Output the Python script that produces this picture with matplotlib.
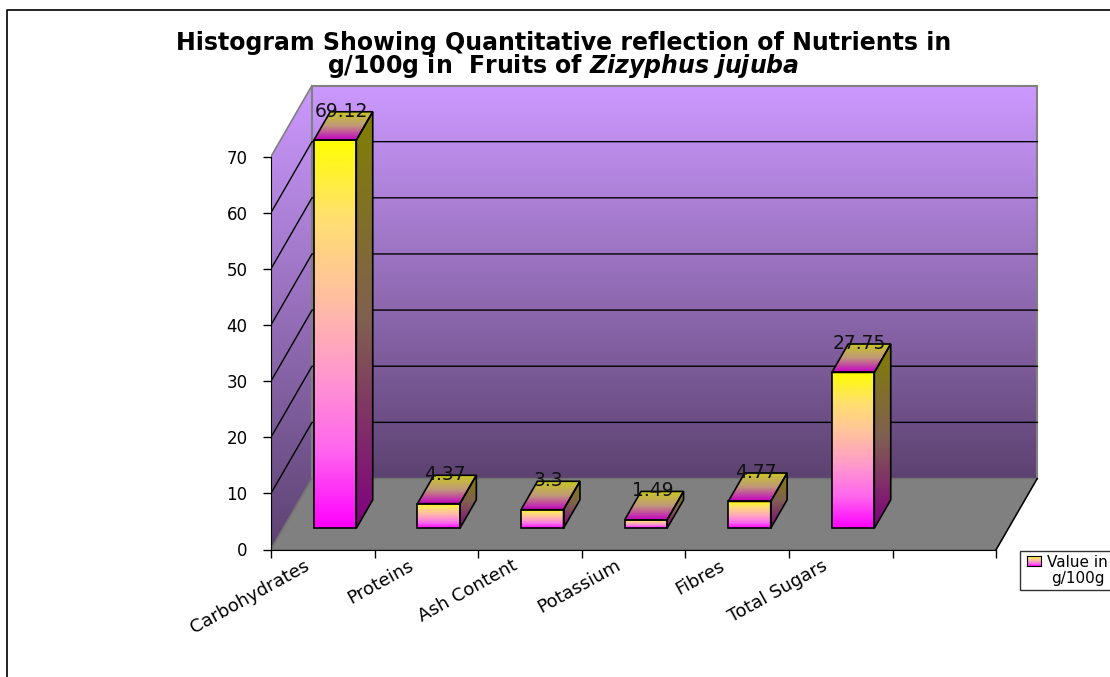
import numpy as np
import matplotlib
matplotlib.use("Agg")
import matplotlib.pyplot as plt
from matplotlib.colors import LinearSegmentedColormap
from matplotlib.patches import Polygon, Rectangle
from matplotlib.lines import Line2D

# ── Data ──────────────────────────────────────────────────────────────────────
categories = ["Carbohydrates", "Proteins", "Ash Content", "Potassium",
              "Fibres", "Total Sugars", ""]
values = [69.12, 4.37, 3.3, 1.49, 4.77, 27.75]
value_labels = ["69.12", "4.37", "3.3", "1.49", "4.77", "27.75"]
y_ticks = [0, 10, 20, 30, 40, 50, 60, 70]
legend_label = "Value in\ng/100g"

# ── Layout (pixels of the 1110x677 picture) ───────────────────────────────────
W, H = 1110, 677
X0, Y0 = 271, 549.5          # front corner of the plot
PX_CAT = 103.6               # pixels per category
PX_VAL = 5.614               # pixels per unit of value
AX_RIGHT, AX_TOP = 1042, 80

# depth of the fake 3D box, in data units
DX = 41 / PX_CAT
DY = 71 / PX_VAL
BAR_W = 0.41
D_FRONT, D_BACK = 0.30, 0.70

# the source text is Arial stretched sideways; DejaVu has about the same widths
plt.rcParams["font.family"] = ["DejaVu Sans"]
plt.rcParams["mathtext.fontset"] = "custom"
plt.rcParams["mathtext.bfit"] = "DejaVu Sans:italic:bold"

wall_cmap = LinearSegmentedColormap.from_list("wall", ["#CC99FF", "#5C4270"])
front_cmap = LinearSegmentedColormap.from_list(
    "front", ["#FFFF00", "#FFE070", "#FFC0A0", "#FF99CC", "#FF66EE", "#FF00FF"])
top_cmap = LinearSegmentedColormap.from_list(
    "top", ["#C8C81E", "#C09A78", "#C400C4"])
side_cmap = LinearSegmentedColormap.from_list(
    "side", ["#808000", "#806050", "#800080"])

fig = plt.figure(figsize=(W / 100, H / 100), dpi=100, facecolor="white")
ax = fig.add_axes([X0 / W, 1 - Y0 / H, (AX_RIGHT - X0) / W, (Y0 - AX_TOP) / H])
ax.patch.set_visible(False)

ramp = np.linspace(0, 1, 256).reshape(-1, 1)


def gradient_poly(xs, ys, cmap, z, edge="black", lw=1.2):
    im = ax.imshow(ramp, extent=(min(xs), max(xs), min(ys), max(ys)),
                   origin="upper", aspect="auto", cmap=cmap, vmin=0, vmax=1,
                   interpolation="bilinear", zorder=z)
    poly = Polygon(np.column_stack([xs, ys]), closed=True, fc="none",
                   ec=edge, lw=lw, zorder=z + 0.1)
    ax.add_patch(poly)
    im.set_clip_path(poly)


n_cat = len(categories)
top_val = y_ticks[-1]

# ── Walls and floor ───────────────────────────────────────────────────────────
gradient_poly([DX, n_cat + DX, n_cat + DX, DX],
              [DY, DY, top_val + DY, top_val + DY], wall_cmap, 1,
              edge="#808080", lw=1.5)
gradient_poly([0, DX, DX, 0],
              [0, DY, top_val + DY, top_val], wall_cmap, 1,
              edge="#808080", lw=1.2)
ax.add_patch(Polygon([(0, 0), (n_cat, 0), (n_cat + DX, DY), (DX, DY)],
                     closed=True, fc="#808080", ec="#707070", lw=1, zorder=1.5))
ax.plot([n_cat, n_cat + DX], [0, DY], color="black", lw=1.1, zorder=1.6)

# ── Gridlines on both walls ───────────────────────────────────────────────────
for t in y_ticks[1:-1]:
    ax.plot([0, DX, n_cat + DX], [t, t + DY, t + DY],
            color="black", lw=1.0, zorder=2)

# ── Bars ──────────────────────────────────────────────────────────────────────
for i, (v, txt) in enumerate(zip(values, value_labels)):
    xl = i + 0.5 - BAR_W / 2 + D_FRONT * DX
    xr = xl + BAR_W
    ddx = (D_BACK - D_FRONT) * DX
    ddy = (D_BACK - D_FRONT) * DY
    yb = D_FRONT * DY
    yt = yb + v
    gradient_poly([xl, xr, xr, xl], [yb, yb, yt, yt], front_cmap, 3)
    gradient_poly([xr, xr + ddx, xr + ddx, xr],
                  [yb, yb + ddy, yt + ddy, yt], side_cmap, 3)
    gradient_poly([xl, xr, xr + ddx, xl + ddx],
                  [yt, yt, yt + ddy, yt + ddy], top_cmap, 3)
    ax.text((xl + xr) / 2 + ddx * 0.4, yt + ddy + 0.1, txt, fontsize=13.5,
            ha="center", va="center", color="#111111", zorder=5)

# ── Axes ──────────────────────────────────────────────────────────────────────
ax.set_xlim(0, (AX_RIGHT - X0) / PX_CAT)
ax.set_ylim(0, (Y0 - AX_TOP) / PX_VAL)
for side in ["top", "right"]:
    ax.spines[side].set_visible(False)
ax.spines["left"].set_bounds(0, top_val)
ax.spines["bottom"].set_bounds(0, n_cat)
ax.spines["left"].set_zorder(6)
ax.spines["bottom"].set_zorder(6)

ax.set_yticks(y_ticks)
ax.tick_params(axis="y", length=6, width=1, labelsize=12, pad=11)
ax.set_xticks(range(n_cat + 1))
ax.set_xticklabels([])
ax.tick_params(axis="x", which="major", length=5.5, width=1)
ax.set_xticks(np.arange(n_cat) + 0.32, labels=categories, minor=True)
ax.tick_params(axis="x", which="minor", length=0, pad=5, labelsize=13)
for lbl in ax.get_xticklabels(minor=True):
    lbl.set_rotation(29)
    lbl.set_ha("right")
    lbl.set_rotation_mode("anchor")

# ── Title ─────────────────────────────────────────────────────────────────────
fig.text(563.5 / W, 1 - 50 / H,
         "Histogram Showing Quantitative reflection of Nutrients in",
         fontsize=17, fontweight="bold", ha="center", va="baseline")
fig.text(563.5 / W, 1 - 73.5 / H,
         r"g/100g in  Fruits of $\mathbfit{Zizyphus\ jujuba}$",
         fontsize=17, fontweight="bold", ha="center", va="baseline")

# ── Outer frame (runs off the picture on the right and at the bottom) ─────────
fig.add_artist(Line2D([7 / W, 7 / W, 1], [0, 1 - 10 / H, 1 - 10 / H],
                      color="black", lw=1.2, transform=fig.transFigure))

# ── Legend box, cut off by the right edge as in the source ────────────────────
fig.add_artist(Rectangle((1020 / W, 1 - 590 / H), 100 / W, 39 / H,
                         fc="white", ec="#333333", lw=1,
                         transform=fig.transFigure))
swatch = fig.add_axes([1027 / W, 1 - 566 / H, 14 / W, 10 / H])
swatch.set_zorder(5)
swatch.imshow(ramp, origin="upper", aspect="auto", cmap=front_cmap)
swatch.set_xticks([])
swatch.set_yticks([])
fig.text(1077.5 / W, 1 - 570.5 / H, legend_label, fontsize=11, ha="center",
         va="center", linespacing=1.1)

fig.savefig("out.png", dpi=100, facecolor="white")
plt.close(fig)
